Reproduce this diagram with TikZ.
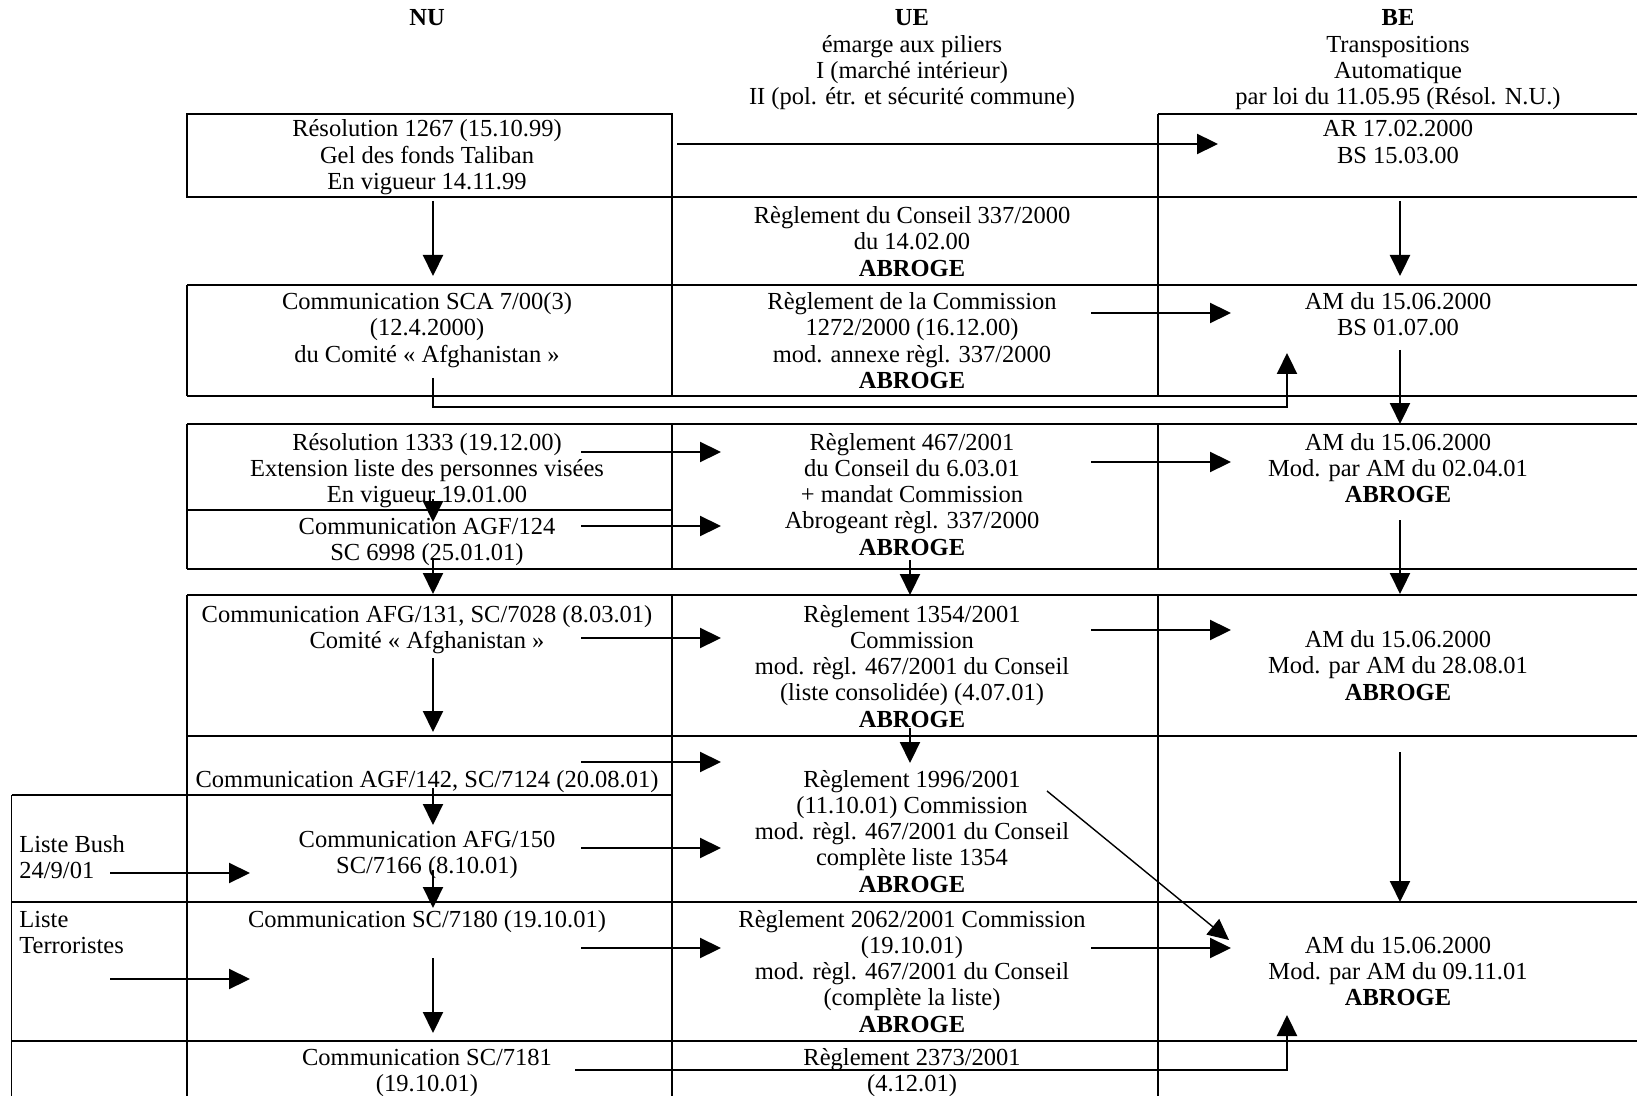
\documentclass[tikz,border=0pt]{standalone}
\usepackage{fontspec}
\setmainfont{Liberation Serif}
\usetikzlibrary{arrows.meta}
\tikzset{
  gridline/.style={line width=0.65pt},
  arr/.style={line width=1.1pt,-{Triangle[length=10.5pt,width=10pt]}},
  thinarr/.style={line width=0.7pt,-{Triangle[length=10.5pt,width=10pt]}},
  txt/.style={font=\fontsize{12.25}{13.15}\selectfont,align=center,inner sep=0pt,anchor=base},
  ltxt/.style={font=\fontsize{12.25}{13.15}\selectfont,align=left,inner sep=0pt,anchor=base west}
}
\begin{document}
\begin{tikzpicture}[x=0.5pt,y=-0.5pt]
\useasboundingbox (0,0) rectangle (1637,1096);

% ---------- grid ----------
% row 1
\draw[gridline] (187,114) rectangle (672,197);
\draw[gridline] (1158,114) -- (1637,114);
\draw[gridline] (672,114) -- (672,396);
\draw[gridline] (1158,114) -- (1158,396);
\draw[gridline] (187,197) -- (1637,197);
\draw[gridline] (187,285) -- (1637,285);
\draw[gridline] (187,396) -- (1637,396);
\draw[gridline] (187,285) -- (187,396);
% row 4
\draw[gridline] (187,424) -- (1637,424);
\draw[gridline] (187,569) -- (1637,569);
\draw[gridline] (187,510) -- (672,510);
\draw[gridline] (187,424) -- (187,569);
\draw[gridline] (672,424) -- (672,569);
\draw[gridline] (1158,424) -- (1158,569);
% row 5
\draw[gridline] (187,595) -- (1637,595);
\draw[gridline] (187,736) -- (1637,736);
\draw[gridline] (187,595) -- (187,736);
\draw[gridline] (672,595) -- (672,736);
\draw[gridline] (1158,595) -- (1158,736);
% rows 6-8
\draw[gridline] (187,736) -- (187,1096);
\draw[gridline] (672,736) -- (672,1096);
\draw[gridline] (1158,736) -- (1158,1096);
\draw[gridline] (11.5,795) -- (672,795);
\draw[gridline] (11.5,902) -- (1637,902);
\draw[gridline] (11.5,1041) -- (1637,1041);
\draw[gridline] (11.5,795) -- (11.5,1096);

% ---------- headers (anchor = baseline of last line) ----------
\node[txt] (hnu) at (427,26) {\textbf{NU}};
\node[txt] (hue) at (912,104.9) {\textbf{UE}\\émarge aux piliers\\I (marché intérieur)\\II (pol. étr. et sécurité commune)};
\node[txt] (hbe) at (1398,104.9) {\textbf{BE}\\Transpositions\\Automatique\\par loi du 11.05.95 (Résol. N.U.)};

% ---------- cells ----------
\node[txt] (nu1) at (427,189.6) {Résolution 1267 (15.10.99)\\Gel des fonds Taliban\\En vigueur 14.11.99};
\node[txt] (be1) at (1398,163.3) {AR 17.02.2000\\BS 15.03.00};
\node[txt] (ue2) at (912,276.1) {Règlement du Conseil 337/2000\\du 14.02.00\\\textbf{ABROGE}};
\node[txt] (nu3) at (427,362.1) {Communication SCA 7/00(3)\\(12.4.2000)\\du Comité « Afghanistan »};
\node[txt] (ue3) at (912,388.4) {Règlement de la Commission\\1272/2000 (16.12.00)\\mod. annexe règl. 337/2000\\\textbf{ABROGE}};
\node[txt] (be3) at (1398,335.8) {AM du 15.06.2000\\BS 01.07.00};
\node[txt] (nu4a) at (427,502.6) {Résolution 1333 (19.12.00)\\Extension liste des personnes visées\\En vigueur 19.01.00};
\node[txt] (nu4b) at (427,560.8) {Communication AGF/124\\SC 6998 (25.01.01)};
\node[txt] (ue4) at (912,555.2) {Règlement 467/2001\\du Conseil du 6.03.01\\+ mandat Commission\\Abrogeant règl. 337/2000\\\textbf{ABROGE}};
\node[txt] (be4) at (1398,502.6) {AM du 15.06.2000\\Mod. par AM du 02.04.01\\\textbf{ABROGE}};
\node[txt] (nu5) at (427,648.3) {Communication AFG/131, SC/7028 (8.03.01)\\Comité « Afghanistan »};
\node[txt] (ue5) at (912,727.2) {Règlement 1354/2001\\Commission\\mod. règl. 467/2001 du Conseil\\(liste consolidée) (4.07.01)\\\textbf{ABROGE}};
\node[txt] (be5) at (1398,700.1) {AM du 15.06.2000\\Mod. par AM du 28.08.01\\\textbf{ABROGE}};
\node[txt] (nu6) at (427,787) {Communication AGF/142, SC/7124 (20.08.01)};
\node[txt] (ue6) at (912,892.2) {Règlement 1996/2001\\(11.10.01) Commission\\mod. règl. 467/2001 du Conseil\\complète liste 1354\\\textbf{ABROGE}};
\node[ltxt] (lbush) at (19,878.3) {Liste Bush\\24/9/01};
\node[txt] (nu6b) at (427,873.3) {Communication AFG/150\\SC/7166 (8.10.01)};
\node[ltxt] (lterr) at (19,953.3) {Liste\\Terroristes};
\node[txt] (nu7) at (427,927) {Communication SC/7180 (19.10.01)};
\node[txt] (ue7) at (912,1032.2) {Règlement 2062/2001 Commission\\(19.10.01)\\mod. règl. 467/2001 du Conseil\\(complète la liste)\\\textbf{ABROGE}};
\node[txt] (be7) at (1398,1005.6) {AM du 15.06.2000\\Mod. par AM du 09.11.01\\\textbf{ABROGE}};
\node[txt] (nu8) at (427,1091.3) {Communication SC/7181\\(19.10.01)};
\node[txt] (ue8) at (912,1091.3) {Règlement 2373/2001\\(4.12.01)};

% ---------- arrow end points ----------
\coordinate (a1s) at (677,144);   \coordinate (a1e) at (1218,144);
\coordinate (a2s) at (433,201);   \coordinate (a2e) at (433,276);
\coordinate (a3s) at (1400,201);  \coordinate (a3e) at (1400,276);
\coordinate (a4s) at (1091,313);  \coordinate (a4e) at (1231,313);
\coordinate (a5s) at (433,378);   \coordinate (a5e) at (1287,353);
\coordinate (a6s) at (1400,350);  \coordinate (a6e) at (1400,424);
\coordinate (a7s) at (581,452);   \coordinate (a7e) at (721,452);
\coordinate (a8s) at (581,526);   \coordinate (a8e) at (721,526);
\coordinate (a9s) at (433,499);   \coordinate (a9e) at (433,522);
\coordinate (a10s) at (433,558);  \coordinate (a10e) at (433,594);
\coordinate (a11s) at (1091,462); \coordinate (a11e) at (1231,462);
\coordinate (a12s) at (910,560);  \coordinate (a12e) at (910,595);
\coordinate (a13s) at (1400,520); \coordinate (a13e) at (1400,594);
\coordinate (a14s) at (581,638);  \coordinate (a14e) at (721,638);
\coordinate (a15s) at (1091,630); \coordinate (a15e) at (1231,630);
\coordinate (a16s) at (433,658);  \coordinate (a16e) at (433,732);
\coordinate (a17s) at (910,728);  \coordinate (a17e) at (910,763);
\coordinate (a18s) at (581,762);  \coordinate (a18e) at (721,762);
\coordinate (a19s) at (433,788);  \coordinate (a19e) at (433,825);
\coordinate (a20s) at (110,873);  \coordinate (a20e) at (250,873);
\coordinate (a21s) at (581,848);  \coordinate (a21e) at (721,848);
\coordinate (a22s) at (433,870);  \coordinate (a22e) at (433,908);
\coordinate (a23s) at (1047,791); \coordinate (a23e) at (1229,940);
\coordinate (a24s) at (1400,752); \coordinate (a24e) at (1400,902);
\coordinate (a25s) at (110,979);  \coordinate (a25e) at (250,979);
\coordinate (a26s) at (581,948);  \coordinate (a26e) at (721,948);
\coordinate (a27s) at (433,958);  \coordinate (a27e) at (433,1033);
\coordinate (a28s) at (1091,948); \coordinate (a28e) at (1231,948);
\coordinate (a29s) at (575,1070); \coordinate (a29e) at (1287,1015);

% ---------- arrows ----------
\draw[arr] (a1s) -- (a1e);
\draw[arr] (a2s) -- (a2e);
\draw[arr] (a3s) -- (a3e);
\draw[arr] (a4s) -- (a4e);
\draw[arr] (a5s) -- (a5s |- 0,407) -- (a5e |- 0,407) -- (a5e);
\draw[arr] (a6s) -- (a6e);
\draw[arr] (a7s) -- (a7e);
\draw[arr] (a8s) -- (a8e);
\draw[arr] (a9s) -- (a9e);
\draw[arr] (a10s) -- (a10e);
\draw[arr] (a11s) -- (a11e);
\draw[arr] (a12s) -- (a12e);
\draw[arr] (a13s) -- (a13e);
\draw[arr] (a14s) -- (a14e);
\draw[arr] (a15s) -- (a15e);
\draw[arr] (a16s) -- (a16e);
\draw[arr] (a17s) -- (a17e);
\draw[arr] (a18s) -- (a18e);
\draw[arr] (a19s) -- (a19e);
\draw[arr] (a20s) -- (a20e);
\draw[arr] (a21s) -- (a21e);
\draw[arr] (a22s) -- (a22e);
\draw[thinarr] (a23s) -- (a23e);
\draw[arr] (a24s) -- (a24e);
\draw[arr] (a25s) -- (a25e);
\draw[arr] (a26s) -- (a26e);
\draw[arr] (a27s) -- (a27e);
\draw[arr] (a28s) -- (a28e);
\draw[arr] (a29s) -- (a29e |- a29s) -- (a29e);
\end{tikzpicture}
\end{document}
